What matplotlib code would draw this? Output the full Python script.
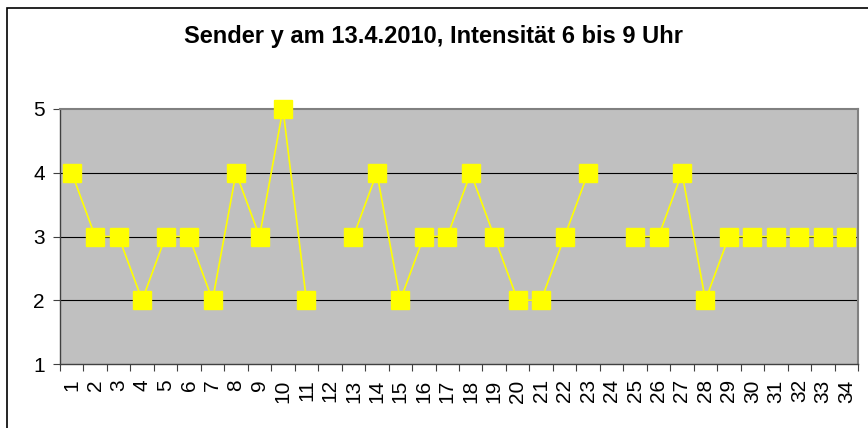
import numpy as np
import matplotlib
matplotlib.use('Agg')
import matplotlib.pyplot as plt
from matplotlib.patches import Rectangle

plt.rcParams['font.family'] = ['Liberation Sans', 'DejaVu Sans']

# Data
categories = [str(i) for i in range(1, 35)]
values = [4, 3, 3, 2, 3, 3, 2, 4, 3, 5, 2, np.nan, 3, 4, 2, 3, 3, 4, 3, 2,
          2, 3, 4, np.nan, 3, 3, 4, 2, 3, 3, 3, 3, 3, 3]
title = 'Sender y am 13.4.2010, Intensität 6 bis 9 Uhr'

fig = plt.figure(figsize=(8.68, 4.28), dpi=100)
ax = fig.add_axes([60 / 868, 1 - 364 / 428, 798 / 868, 255 / 428])

# Outer chart border
fig.patches.append(Rectangle((7 / 868, -0.02), 1.0, 1 - 8 / 428 + 0.02,
                             transform=fig.transFigure, fill=False,
                             edgecolor='black', linewidth=1.2))

x = np.arange(1, len(categories) + 1)
ax.set_facecolor('#c0c0c0')
for y in [2, 3, 4]:
    ax.axhline(y, color='black', linewidth=0.8, zorder=1)
ax.plot(x, values, color='#ffff00', linewidth=1.2, marker='s', markersize=13.5,
        markerfacecolor='#ffff00', markeredgecolor='#ffff00', zorder=3,
        clip_on=False)

ax.set_xlim(0.5, len(categories) + 0.5)
ax.set_ylim(1, 5)
ax.set_yticks([1, 2, 3, 4, 5])
ax.set_xticks(np.arange(0.5, len(categories) + 1, 1))
ax.set_xticklabels([])
ax.set_xticks(x, minor=True)
ax.set_xticklabels(categories, minor=True, rotation=90, fontsize=15)
ax.tick_params(axis='x', which='minor', length=0, pad=11)
ax.tick_params(axis='x', which='major', length=5, color='#404040', direction='out')
ax.tick_params(axis='y', length=5, color='#404040', labelsize=15, pad=6)

for side in ['top', 'right']:
    ax.spines[side].set_color('#808080')
    ax.spines[side].set_linewidth(1.5)
for side in ['left', 'bottom']:
    ax.spines[side].set_color('#404040')
    ax.spines[side].set_linewidth(1.0)

fig.text(0.5, 1 - 37 / 428, title, ha='center', va='center',
         fontsize=17, fontweight='bold')

fig.savefig('out.png', dpi=100)
